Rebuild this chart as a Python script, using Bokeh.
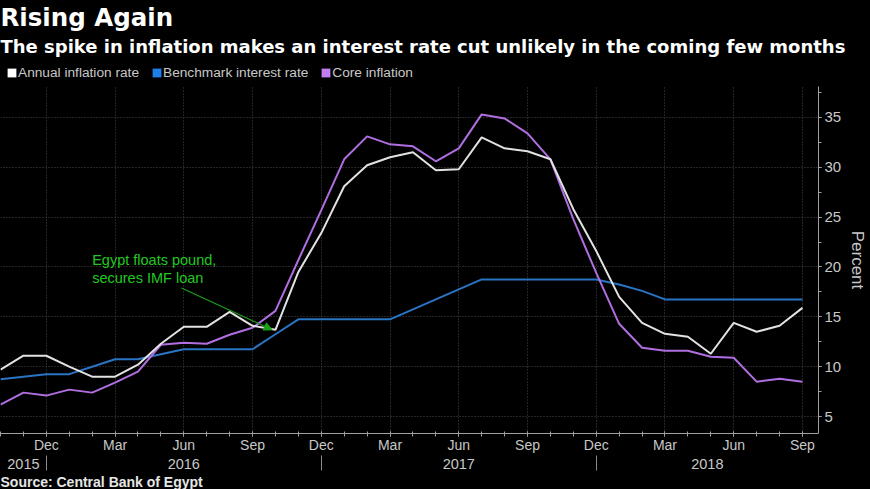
from bokeh.plotting import figure
from bokeh.layouts import column
from bokeh.models import (Range1d, LinearAxis, FixedTicker, Title, Legend, LegendItem,
                          Arrow, NormalHead, ColumnDataSource)
from bokeh.core.properties import value
from bokeh.embed import file_html
from bokeh.resources import INLINE

# ---------------- data (monthly, Oct 2015 .. Sep 2018) ----------------
months = ["Oct", "Nov", "Dec", "Jan", "Feb", "Mar", "Apr", "May", "Jun", "Jul", "Aug", "Sep"] * 3
years = [2015] * 3 + [2016] * 12 + [2017] * 12 + [2018] * 9

annual_inflation = [9.7, 11.1, 11.1, 10.0, 9.0, 9.0, 10.2, 12.3, 14.0, 14.0, 15.5, 14.1,
                    13.7, 19.5, 23.4, 28.1, 30.2, 31.0, 31.5, 29.7, 29.8, 33.0, 31.9, 31.6,
                    30.8, 25.8, 21.6, 17.0, 14.4, 13.3, 13.0, 11.3, 14.4, 13.5, 14.1, 15.9]
benchmark_rate = [8.75, 9.0, 9.25, 9.25, 10.0, 10.75, 10.75, 11.25, 11.75, 11.75, 11.75, 11.75,
                  13.25, 14.75, 14.75, 14.75, 14.75, 14.75, 15.75, 16.75, 17.75, 18.75, 18.75, 18.75,
                  18.75, 18.75, 18.75, 18.25, 17.6, 16.75, 16.75, 16.75, 16.75, 16.75, 16.75, 16.75]
core_inflation = [6.2, 7.4, 7.1, 7.7, 7.4, 8.4, 9.5, 12.2, 12.4, 12.3, 13.2, 13.9,
                  15.6, 20.7, 25.7, 30.8, 33.1, 32.3, 32.1, 30.6, 31.9, 35.3, 34.9, 33.4,
                  30.8, 24.8, 19.4, 14.3, 11.9, 11.6, 11.6, 11.0, 10.9, 8.5, 8.8, 8.5]

series_names = ["Annual inflation rate", "Benchmark interest rate", "Core inflation"]
y_ticks = [5, 10, 15, 20, 25, 30, 35]
year_labels = ["2015", "2016", "2017", "2018"]
annotation_lines = ["Egypt floats pound,", "secures IMF loan"]

# ---------------- styling ----------------
FONT = "Liberation Sans"
TFONT = "DejaVu Sans"
BG = "#000000"
WHITE = "#e2e2e2"
BLUE = "#2a74c4"
PURPLE = "#b06ee0"
GREEN = "#22c822"
AXIS = "#a0a0a0"
LABEL = "#c8c8c8"
GRID = "#4a4a4a"

x = list(range(len(months)))
src = ColumnDataSource(dict(x=x, annual=annual_inflation, bench=benchmark_rate, core=core_inflation))

# ---------------- header: titles + legend ----------------
h = figure(width=870, height=84, x_range=Range1d(0, 1), y_range=Range1d(0, 1),
           output_backend="svg", toolbar_location=None,
           x_axis_location=None, y_axis_location=None,
           background_fill_color=BG, border_fill_color=BG, outline_line_color=None,
           min_border_left=0, min_border_right=0, min_border_top=0, min_border_bottom=0)
h.grid.visible = False
swatches = []
for name, col in zip(series_names, ["#ffffff", "#1f7fe8", "#c07ef0"]):
    # legend swatch proxy, kept outside the visible range
    r = h.quad(left=[-3], right=[-2], top=[-2], bottom=[-3], fill_color=col, line_color=None)
    swatches.append(LegendItem(label=name, renderers=[r]))
legend = Legend(items=swatches, orientation="horizontal", location=(6, 4),
                background_fill_alpha=0, border_line_color=None,
                label_text_color=LABEL, label_text_font=FONT, label_text_font_size="13.7px",
                glyph_width=11, glyph_height=11, label_standoff=1, spacing=12,
                padding=0, margin=0, label_height=16)
h.add_layout(legend, "center")
h.add_layout(Title(text="The spike in inflation makes an interest rate cut unlikely in the coming few months",
                   text_font=TFONT, text_font_size="18px", text_font_style="bold",
                   text_color="#ffffff", align="left", standoff=4), "above")
h.add_layout(Title(text="Rising Again", text_font=TFONT, text_font_size="24.5px",
                   text_font_style="bold", text_color="#ffffff", align="left", standoff=0), "above")

# ---------------- main chart ----------------
p = figure(width=870, height=405,
           x_range=Range1d(0, 35.7), y_range=Range1d(3.3, 38.1),
           output_backend="svg", toolbar_location=None, y_axis_location="right",
           background_fill_color=BG, border_fill_color=BG, outline_line_color=None,
           min_border_left=0, min_border_right=0, min_border_top=2, min_border_bottom=0)

major_idx = [i for i in x if months[i] in ("Dec", "Mar", "Jun", "Sep")]
p.xgrid.ticker = FixedTicker(ticks=major_idx)
p.ygrid.ticker = FixedTicker(ticks=y_ticks)
for g in (p.xgrid, p.ygrid):
    g.grid_line_color = GRID
    g.grid_line_dash = "1 2"
    g.grid_line_width = 1

# month axis
xa = p.xaxis[0]
xa.ticker = FixedTicker(ticks=major_idx, minor_ticks=x)
xa.major_label_overrides = {i: months[i] for i in major_idx}
xa.axis_line_color = AXIS
xa.major_tick_line_color = AXIS
xa.minor_tick_line_color = AXIS
xa.major_tick_in = 2
xa.major_tick_out = 3
xa.minor_tick_in = 2
xa.minor_tick_out = 3
xa.major_label_standoff = 0
xa.major_label_text_color = LABEL
xa.major_label_text_font = FONT
xa.major_label_text_font_size = "14px"

# year axis: labels centred on each year's span, separators as minor ticks
year_pos = []
sep_pos = []
for yv in sorted(set(years)):
    idx = [i for i in x if years[i] == yv]
    lo = max(idx[0] - 1, 0)
    hi = 35.7 if yv == years[-1] else idx[-1]
    year_pos.append((lo + hi) / 2)
for i in x[1:]:
    if years[i] != years[i - 1]:
        sep_pos.append(i - 1)
ya2 = LinearAxis(ticker=FixedTicker(ticks=year_pos, minor_ticks=sep_pos),
                 major_label_overrides={pos: lab for pos, lab in zip(year_pos, year_labels)},
                 axis_line_color=None, major_tick_line_color=None,
                 major_tick_in=0, major_tick_out=0,
                 minor_tick_in=0, minor_tick_out=15, minor_tick_line_color="#8a8a8a",
                 major_label_standoff=-12, major_label_text_color=LABEL,
                 major_label_text_font=FONT, major_label_text_font_size="14.5px")
p.add_layout(ya2, "below")

# right value axis
ya = p.yaxis[0]
ya.ticker = FixedTicker(ticks=y_ticks, minor_ticks=[2.5 + 2.5 * k for k in range(15)])
ya.axis_line_color = AXIS
ya.major_tick_line_color = AXIS
ya.minor_tick_line_color = AXIS
ya.major_tick_in = 0
ya.major_tick_out = 3
ya.minor_tick_in = 0
ya.minor_tick_out = 3
ya.major_label_standoff = 3
ya.major_label_text_color = LABEL
ya.major_label_text_font = FONT
ya.major_label_text_font_size = "15px"
ya.axis_label = "Percent"
ya.axis_label_text_color = LABEL
ya.axis_label_text_font = FONT
ya.axis_label_text_font_size = "17px"
ya.axis_label_text_font_style = "normal"
ya.axis_label_standoff = 4

# lines
p.line("x", "bench", source=src, line_color=BLUE, line_width=2)
p.line("x", "core", source=src, line_color=PURPLE, line_width=2)
p.line("x", "annual", source=src, line_color=WHITE, line_width=2)

# annotation
p.text(x=[4.0, 4.0], y=[20.7, 18.9], text=annotation_lines, text_color=GREEN,
       text_font=value(FONT), text_font_size="14.5px", text_baseline="middle", text_align="left")
p.add_layout(Arrow(x_start=7.9, y_start=17.9, x_end=11.85, y_end=13.7,
                   line_color="#1aa01a", line_width=1.2,
                   end=NormalHead(size=8, fill_color="#1aa01a", line_color="#1aa01a")))

p.add_layout(Title(text="Source: Central Bank of Egypt", text_font=FONT, text_font_size="14px",
                   text_font_style="bold", text_color="#e6e6e6", align="left", standoff=0), "below")

layout = column(h, p, spacing=0)
html = file_html(layout, INLINE, title="Rising Again")
html = html.replace("<body>", "<body style=\"background:#000000\">")
open("out.html", "w").write(html)
